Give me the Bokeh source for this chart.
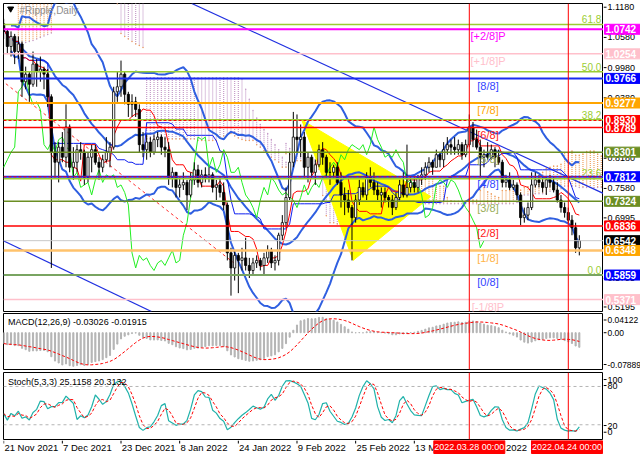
import numpy as np
import pandas as pd
from bokeh.plotting import figure
from bokeh.layouts import column, row
from bokeh.models import Range1d, Span, Label, ColumnDataSource, Spacer
from bokeh.core.properties import value
from bokeh.embed import file_html
from bokeh.resources import INLINE

# ---------------- data ----------------
start_date = "2021-11-21"
first_open = 1.085
closes = [1.070, 1.040, 1.060, 1.030, 1.045, 0.970, 0.985, 0.965, 1.005, 0.990,
          0.995, 0.985, 0.940, 0.830, 0.810, 0.840, 0.820, 0.880, 0.800, 0.810,
          0.835, 0.830, 0.780, 0.820, 0.835, 0.810, 0.800, 0.815, 0.830, 0.840,
          0.950, 0.960, 0.985, 0.945, 0.925, 0.930, 0.915, 0.845, 0.835, 0.850,
          0.830, 0.855, 0.860, 0.840, 0.835, 0.780, 0.790, 0.760, 0.765, 0.770,
          0.745, 0.775, 0.795, 0.770, 0.785, 0.780, 0.785, 0.760, 0.765, 0.750,
          0.725, 0.630, 0.600, 0.625, 0.615, 0.620, 0.605, 0.595, 0.610, 0.615,
          0.605, 0.620, 0.635, 0.610, 0.615, 0.665, 0.690, 0.740, 0.810, 0.860,
          0.855, 0.860, 0.800, 0.820, 0.790, 0.805, 0.835, 0.820, 0.790, 0.790,
          0.800, 0.770, 0.745, 0.735, 0.720, 0.700, 0.735, 0.760, 0.745, 0.780,
          0.770, 0.755, 0.745, 0.750, 0.740, 0.735, 0.720, 0.740, 0.765, 0.745,
          0.760, 0.770, 0.760, 0.780, 0.785, 0.800, 0.810, 0.800, 0.825, 0.815,
          0.835, 0.845, 0.840, 0.835, 0.845, 0.825, 0.845, 0.880, 0.855, 0.840,
          0.820, 0.825, 0.820, 0.835, 0.820, 0.810, 0.770, 0.775, 0.760, 0.765,
          0.745, 0.700, 0.705, 0.720, 0.765, 0.775, 0.770, 0.760, 0.775, 0.770,
          0.755, 0.735, 0.720, 0.710, 0.695, 0.680, 0.640, 0.6542]
highs = [1.095, 1.075, 1.070, 1.065, 1.060, 1.050, 1.000, 0.990, 1.030, 1.015,
         1.020, 1.000, 0.995, 0.945, 0.850, 0.850, 0.870, 0.925, 0.885, 0.840,
         0.845, 0.850, 0.835, 0.830, 0.845, 0.845, 0.820, 0.825, 0.860, 0.850,
         0.960, 0.990, 1.012, 0.990, 0.950, 0.945, 0.940, 0.925, 0.870, 0.865,
         0.860, 0.865, 0.870, 0.865, 0.860, 0.850, 0.800, 0.790, 0.780, 0.790,
         0.775, 0.790, 0.810, 0.805, 0.795, 0.800, 0.800, 0.790, 0.775, 0.780,
         0.770, 0.730, 0.640, 0.635, 0.630, 0.640, 0.660, 0.620, 0.620, 0.625,
         0.620, 0.630, 0.645, 0.640, 0.625, 0.670, 0.705, 0.760, 0.830, 0.910,
         0.905, 0.885, 0.870, 0.830, 0.825, 0.815, 0.845, 0.850, 0.825, 0.810,
         0.805, 0.810, 0.790, 0.760, 0.755, 0.725, 0.745, 0.775, 0.770, 0.790,
         0.800, 0.790, 0.770, 0.760, 0.760, 0.745, 0.745, 0.750, 0.775, 0.790,
         0.845, 0.780, 0.780, 0.785, 0.800, 0.810, 0.820, 0.815, 0.835, 0.830,
         0.850, 0.860, 0.855, 0.860, 0.855, 0.850, 0.855, 0.905, 0.890, 0.875,
         0.855, 0.835, 0.850, 0.845, 0.840, 0.835, 0.815, 0.785, 0.790, 0.775,
         0.770, 0.750, 0.720, 0.730, 0.790, 0.790, 0.785, 0.780, 0.780, 0.785,
         0.780, 0.770, 0.745, 0.730, 0.720, 0.705, 0.690, 0.665]
lows = [1.055, 1.025, 1.020, 1.005, 1.015, 0.940, 0.955, 0.930, 0.960, 0.960,
        0.970, 0.955, 0.920, 0.600, 0.780, 0.770, 0.810, 0.800, 0.790, 0.775,
        0.790, 0.815, 0.765, 0.770, 0.790, 0.805, 0.775, 0.790, 0.810, 0.800,
        0.835, 0.930, 0.940, 0.925, 0.900, 0.900, 0.900, 0.830, 0.820, 0.815,
        0.820, 0.825, 0.840, 0.825, 0.820, 0.765, 0.760, 0.740, 0.740, 0.755,
        0.715, 0.740, 0.765, 0.760, 0.760, 0.770, 0.770, 0.750, 0.735, 0.740,
        0.715, 0.615, 0.545, 0.575, 0.550, 0.595, 0.595, 0.580, 0.585, 0.600,
        0.595, 0.585, 0.610, 0.600, 0.595, 0.605, 0.655, 0.680, 0.735, 0.800,
        0.830, 0.820, 0.780, 0.770, 0.780, 0.765, 0.800, 0.805, 0.780, 0.765,
        0.780, 0.765, 0.720, 0.705, 0.710, 0.615, 0.690, 0.725, 0.740, 0.735,
        0.760, 0.745, 0.735, 0.720, 0.730, 0.720, 0.705, 0.715, 0.735, 0.740,
        0.740, 0.750, 0.750, 0.750, 0.765, 0.775, 0.790, 0.785, 0.800, 0.800,
        0.800, 0.825, 0.825, 0.825, 0.825, 0.815, 0.820, 0.840, 0.840, 0.835,
        0.780, 0.800, 0.815, 0.815, 0.800, 0.805, 0.760, 0.760, 0.755, 0.755,
        0.735, 0.685, 0.690, 0.695, 0.715, 0.760, 0.760, 0.750, 0.745, 0.760,
        0.750, 0.730, 0.710, 0.700, 0.690, 0.665, 0.630, 0.625]

# state of the averages just before the first visible bar
ema12_seed = 1.095
ema26_seed = 1.118

# early Ichimoku cloud (its 52-bar history lies before the chart)
cloud_early_days = [4, 5, 6, 7, 8, 9, 10, 11, 12, 13,
                    31, 32, 33, 34, 35, 36, 37, 38, 39, 40, 41, 42, 43, 44, 45, 46, 47, 48, 49, 50,
                    51, 52, 53, 54, 55, 56, 57, 58, 59, 60, 61, 62, 63, 64, 65, 66, 67, 68, 69, 70,
                    71, 72, 73, 74, 75, 76, 77]
cloud_early_a = [1.14, 1.14, 1.14, 1.14, 1.14, 1.14, 1.14, 1.14, 1.14, 1.14,
                 1.125, 1.066, 1.060, 1.055, 1.050, 1.045, 1.042, 1.038, 0.856, 0.856, 0.856, 0.856,
                 0.856, 0.856, 0.856, 0.856, 0.856, 0.856, 0.856, 0.856, 0.856, 0.856, 0.853, 0.853,
                 0.853, 0.853, 0.853, 0.853, 0.860, 0.862, 0.865, 0.867, 0.862, 0.858, 0.855, 0.853,
                 0.853, 0.853, 0.845, 0.840, 0.833, 0.825, 0.820, 0.815, 0.810, 0.800, 0.800]
cloud_early_b = [1.045, 1.046, 1.048, 1.050, 1.052, 1.055, 1.058, 1.061, 1.064, 1.067,
                 1.140, 1.140, 1.140, 1.140, 1.140, 1.140, 1.140, 1.140, 0.978, 0.978, 0.978, 0.978,
                 0.978, 0.978, 0.978, 0.978, 0.978, 0.978, 0.978, 0.978, 0.978, 0.978, 0.978, 0.978,
                 0.978, 0.978, 0.978, 0.978, 0.978, 0.978, 0.978, 0.978, 0.978, 0.978, 0.975, 0.955,
                 0.935, 0.913, 0.898, 0.885, 0.875, 0.867, 0.855, 0.845, 0.835, 0.820, 0.810]

x_tick_days = [0, 16, 32, 48, 64, 80, 96, 112, 128, 144]
x_tick_labels = ["21 Nov 2021", "7 Dec 2021", "23 Dec 2021", "8 Jan 2022", "24 Jan 2022",
                 "9 Feb 2022", "25 Feb 2022", "13 Mar 2022", "29 Mar 2022", "14 Apr 2022"]
price_ticks = [1.118, 1.058, 0.998, 0.938, 0.878, 0.818, 0.758, 0.6995, 0.6395, 0.5795, 0.5195]
price_tick_labels = ["1.1180", "1.0580", "0.9980", "0.9380", "0.8780", "0.8180", "0.7580",
                     "0.6995", "0.6395", "0.5795", "0.5195"]
macd_ticks = [0.0273, 0.0, -0.0682]
macd_tick_labels = ["0.04122", "0.00", "-0.07889"]
stoch_ticks = [90.9, 81.5, 18.8, 8.3]
stoch_tick_labels = ["100", "80", "20", "0"]

murrey_levels = [0.5371, 0.5859, 0.6348, 0.6836, 0.7324, 0.7812, 0.8301, 0.8789, 0.9277, 0.9766, 1.0254, 1.0742]
murrey_names = ["[-1/8]P", "[0/8]", "[1/8]", "[2/8]", "[3/8]", "[4/8]", "[5/8]", "[6/8]", "[7/8]", "[8/8]", "[+1/8]P", "[+2/8]P"]
murrey_colors = ["#ffc0cb", "#1a2cf0", "#ffc26b", "#ff0000", "#6b8e23", "#1a2cf0", "#6b8e23", "#ff0000", "#ffa500", "#1a2cf0", "#ffc0cb", "#ff00ff"]
murrey_text_colors = ["#ffc0cb", "#3344ff", "#ffb347", "#ff2020", "#9aae5a", "#3344ff", "#9aae5a", "#ff2020", "#ffa500", "#3344ff", "#ffc0cb", "#ff00ff"]
murrey_widths = [1.5, 2, 2.5, 1.5, 1.5, 2, 1.5, 1.5, 2, 2, 1.5, 2]

fib_levels = [0.5859, 0.7772, 0.8943, 0.9897, 1.0836]
fib_names = ["0.0", "23.6", "38.2", "50.0", "61.8"]
red_dashed_levels = [0.8930, 0.7812]
current_price = 0.6542

box_values = [1.0742, 1.0254, 0.9766, 0.9277, 0.8930, 0.8789, 0.8301, 0.7812, 0.7324, 0.6836, 0.6542, 0.6348, 0.5859, 0.5371]
box_texts = ["1.0742", "1.0254", "0.9766", "0.9277", "0.8930", "0.8789", "0.8301", "0.7812", "0.7324", "0.6836", "0.6542", "0.6348", "0.5859", "0.5371"]
box_colors = ["#ff00ff", "#ffc0cb", "#0000ff", "#ffa500", "#ff0000", "#ff0000", "#6b8e23", "#0000ff", "#6b8e23", "#ff0000", "#000000", "#ffa500", "#0000ff", "#ffc0cb"]

triangle_days = [81.3, 116.5, 95.3]
triangle_prices = [0.894, 0.742, 0.615]
channel_days = [[51.3, 163.9], [-0.1, 40.3]]
channel_prices = [[1.1254, 0.747], [0.654, 0.5135]]
dashed_trend_days = [0.6, 62.8]
dashed_trend_prices = [0.966, 0.610]

vline_days = [127, 154]
vline_labels = ["2022.03.28 00:00", "2022.04.24 00:00"]
macd_title = "MACD(12,26,9) -0.03026 -0.01915"
stoch_title = "Stoch(5,3,3) 25.1158 20.3132"
chart_title = "#Ripple,Daily"

# ---------------- derived indicators ----------------
n = len(closes)
dates = pd.date_range(start_date, periods=n, freq="D")
day = np.arange(n, dtype=float)
opens = [first_open] + closes[:-1]
c = pd.Series(closes); h = pd.Series(highs); l = pd.Series(lows)

tenkan = (h.rolling(9, min_periods=1).max() + l.rolling(9, min_periods=1).min()) / 2
kijun = (h.rolling(26, min_periods=1).max() + l.rolling(26, min_periods=1).min()) / 2
span_a = (tenkan + kijun) / 2
span_b = (h.rolling(52, min_periods=52).max() + l.rolling(52, min_periods=52).min()) / 2
late = ~span_b.isna()
cloud_days = list(cloud_early_days) + list((day + 26)[late.values])
cloud_a = list(cloud_early_a) + list(span_a[late])
cloud_b = list(cloud_early_b) + list(span_b[late])

mid = c.rolling(20, min_periods=3).mean()
sd = c.rolling(20, min_periods=3).std(ddof=0)
bb_up = mid + 2 * sd
bb_dn = mid - 2 * sd


def ema(vals, span, seed):
    k = 2.0 / (span + 1)
    e, out = seed, []
    for v in vals:
        e = e + k * (v - e)
        out.append(e)
    return np.array(out)


macd = pd.Series(ema(closes, 12, ema12_seed) - ema(closes, 26, ema26_seed))
signal = macd.rolling(9, min_periods=1).mean()

ll = l.rolling(5, min_periods=1).min()
hh = h.rolling(5, min_periods=1).max()
stk = 100 * (c - ll).rolling(3, min_periods=1).sum() / (hh - ll).rolling(3, min_periods=1).sum()
std_ = stk.rolling(3, min_periods=1).mean()

# ---------------- layout ----------------
WL, WR = 603, 37
X0, X1 = -0.05, 163.6
Y0, Y1 = 0.5135, 1.1254
M0, M1 = -0.07889, 0.04122
S0, S1 = -3.1, 101.9
FONT = "Liberation Sans"
xr = Range1d(X0, X1)


def panel(h_, yr, top, bottom):
    p = figure(width=WL, height=h_, x_range=xr, y_range=yr,
               output_backend="svg", toolbar_location=None,
               x_axis_location=None, y_axis_location=None,
               min_border_left=3, min_border_right=0, min_border_top=top, min_border_bottom=bottom)
    p.grid.visible = False
    p.outline_line_color = "black"
    p.outline_line_width = 1
    p.background_fill_color = "white"
    p.border_fill_color = "white"
    return p


def side(h_, yr, top, bottom, ticks, labels, fsize="9px"):
    r = figure(width=WR, height=h_, x_range=Range1d(0, WR), y_range=yr,
               output_backend="svg", toolbar_location=None,
               x_axis_location=None, y_axis_location=None,
               min_border_left=0, min_border_right=0, min_border_top=top, min_border_bottom=bottom)
    r.grid.visible = False
    r.outline_line_color = None
    r.background_fill_color = "white"
    r.border_fill_color = "white"
    r.segment(x0=[0] * len(ticks), y0=ticks, x1=[3] * len(ticks), y1=ticks, color="black", line_width=1)
    r.text(x=[4] * len(ticks), y=ticks, text=labels, text_font=value(FONT), text_font_size=fsize,
           text_color="black", text_align="left", text_baseline="middle")
    return r


yr1 = Range1d(Y0, Y1)
yr2 = Range1d(M0, M1)
yr3 = Range1d(S0, S1)

# ---- main price panel ----
p1 = panel(312, yr1, 3, 1)

ccol = ["#eea060" if a >= b else "#c49ac8" for a, b in zip(cloud_a, cloud_b)]
p1.segment(cloud_days, cloud_a, cloud_days, cloud_b, color=ccol, line_width=1.2, line_dash="1 1")
p1.scatter(cloud_days, cloud_a, marker="dot", size=6, color="#eea060")
p1.scatter(cloud_days, cloud_b, marker="dot", size=6, color="#c49ac8")

p1.patch(triangle_days, triangle_prices, fill_color="#ffff00", line_color="#ffff00", fill_alpha=1)

for lv, col, wd in zip(murrey_levels, murrey_colors, murrey_widths):
    p1.add_layout(Span(location=lv, dimension="width", line_color=col, line_width=wd))
for lv in fib_levels:
    p1.add_layout(Span(location=lv, dimension="width", line_color="#9acd32", line_width=1.5))
for lv in red_dashed_levels:
    p1.add_layout(Span(location=lv, dimension="width", line_color="#ff0000", line_width=1, line_dash="3 2"))
p1.add_layout(Span(location=current_price, dimension="width", line_color="#c8c8c8", line_width=1))

for dx, py in zip(channel_days, channel_prices):
    p1.line(dx, py, color="#2030e0", line_width=1.2)
p1.line(dashed_trend_days, dashed_trend_prices, color="#ff3030", line_width=1, line_dash="3 3")

p1.line(day, bb_up, color="#2f5fe0", line_width=2)
p1.line(day, mid, color="#2f5fe0", line_width=2)
p1.line(day, bb_dn, color="#2f5fe0", line_width=2)
p1.line(day, kijun, color="#1020f0", line_width=1)
p1.line(day, tenkan, color="#ff0000", line_width=1)
p1.line(day - 26, closes, color="#22ee22", line_width=1)

up = [cl >= op for op, cl in zip(opens, closes)]
src = ColumnDataSource(dict(x=day, o=opens, c=closes, h=highs, l=lows,
                            top=[max(a, b) for a, b in zip(opens, closes)],
                            bot=[min(a, b) for a, b in zip(opens, closes)],
                            fill=["white" if u else "black" for u in up]))
p1.segment("x", "h", "x", "l", source=src, color="black", line_width=1)
p1.vbar(x="x", top="top", bottom="bot", width=0.6, source=src, fill_color="fill", line_color="black", line_width=0.8)

mt = ColumnDataSource(dict(x=[132.1] * len(murrey_levels), y=[v - 0.0142 for v in murrey_levels],
                           t=murrey_names, col=murrey_text_colors))
p1.text(x="x", y="y", text="t", text_color="col", source=mt, text_font=value(FONT),
        text_font_size="11px", text_align="center", text_baseline="middle")
ft = ColumnDataSource(dict(x=[163.0] * len(fib_levels), y=[v + 0.0105 for v in fib_levels], t=fib_names))
p1.text(x="x", y="y", text="t", text_color="#9acd32", source=ft, text_font=value(FONT),
        text_font_size="10px", text_align="right", text_baseline="middle")

p1.scatter([1.9], [1.1150], marker="inverted_triangle", size=6, color="black")
p1.add_layout(Label(x=4.3, y=1.1114, text=chart_title, text_color="#8c8c8c", text_font=FONT,
                    text_font_size="10px", text_baseline="middle"))

r1_ticks = price_ticks[:-1] + [price_ticks[-1] + 0.003]
r1 = side(312, yr1, 3, 1, r1_ticks, price_tick_labels)
r1.rect(x=[19.0] * len(box_values), y=box_values, width=36, height=10, height_units="screen",
        fill_color=box_colors, line_color=box_colors)
r1.text(x=[2.0] * len(box_values), y=box_values, text=box_texts, text_font=value(FONT),
        text_font_size="10px", text_font_style="bold", text_color="white",
        text_align="left", text_baseline="middle")

# ---- MACD panel ----
p2 = panel(59, yr2, 1, 2)
p2.vbar(x=day, top=macd, bottom=0, width=0.3, color="#b4b4b4")
p2.line(day, signal, color="#ff0000", line_width=1, line_dash="3 2")
p2.add_layout(Label(x=1.2, y=0.0226, text=macd_title, text_color="black", text_font=FONT,
                    text_font_size="9px", text_baseline="middle"))
r2 = side(59, yr2, 1, 2, macd_ticks, macd_tick_labels, fsize="8.5px")

# ---- Stochastic panel ----
p3 = panel(69, yr3, 1, 1)
for lv in (80, 20):
    p3.add_layout(Span(location=lv, dimension="width", line_color="#b4b4b4", line_width=1, line_dash="3 3"))
p3.line(day, stk, color="#20b2aa", line_width=1.2)
p3.line(day, std_, color="#ff0000", line_width=1, line_dash="3 2")
p3.add_layout(Label(x=1.2, y=87.0, text=stoch_title, text_color="black", text_font=FONT,
                    text_font_size="9px", text_baseline="middle"))
r3 = side(69, yr3, 1, 1, stoch_ticks, stoch_tick_labels)

for d in vline_days:
    for p in (p1, p2, p3):
        p.add_layout(Span(location=d, dimension="height", line_color="#ff0000", line_width=1))

# ---- date strip ----
SH = 16
box_centers = [127.0, 153.65]
pb = figure(width=WL, height=SH, x_range=xr, y_range=Range1d(0, SH),
            output_backend="svg", toolbar_location=None,
            x_axis_location=None, y_axis_location=None,
            min_border_left=3, min_border_right=0, min_border_top=0, min_border_bottom=0)
pb.grid.visible = False
pb.outline_line_color = None
pb.background_fill_color = "white"
pb.border_fill_color = "white"
pb.segment(x0=x_tick_days, y0=[SH] * len(x_tick_days), x1=x_tick_days, y1=[SH - 3] * len(x_tick_days),
           color="black", line_width=1)
pb.text(x=[d + 0.2 for d in x_tick_days], y=[SH - 6.5] * len(x_tick_days), text=x_tick_labels,
        text_font=value(FONT), text_font_size="9.5px", text_color="black",
        text_align="left", text_baseline="middle")
pb.rect(x=box_centers, y=[SH - 6.5] * 2, width=71, height=13, width_units="screen", height_units="screen",
        fill_color="#ff0000", line_color="#ff0000")
pb.text(x=box_centers, y=[SH - 6.5] * 2, text=vline_labels, text_font=value(FONT), text_font_size="9px",
        text_color="white", text_align="center", text_baseline="middle")

layout = column(row(p1, r1, spacing=0), row(p2, r2, spacing=0), row(p3, r3, spacing=0),
                row(pb, Spacer(width=WR, height=SH), spacing=0), spacing=0)
open("out.html", "w").write(file_html(layout, INLINE))
